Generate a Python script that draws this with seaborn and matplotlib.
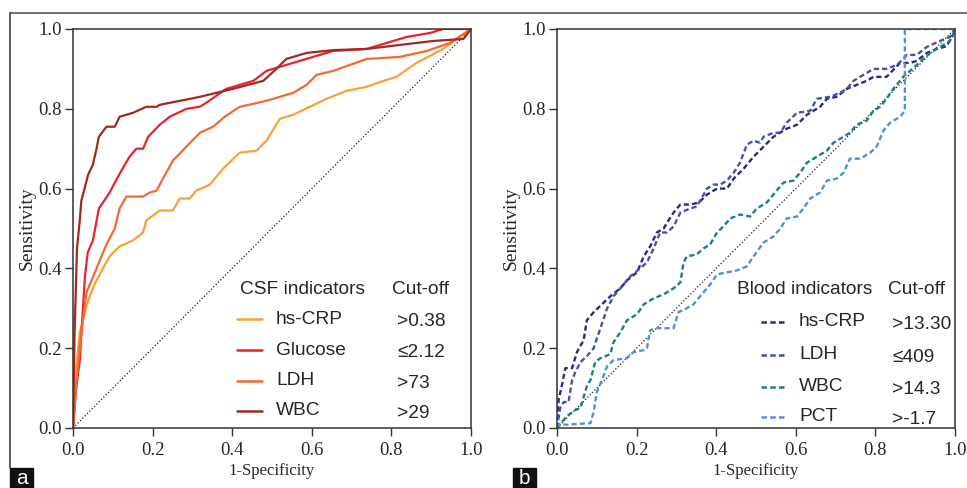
import numpy as np
import pandas as pd
import seaborn as sns
from matplotlib import pyplot as plt
from matplotlib.lines import Line2D
from matplotlib.patches import Rectangle

# ---- panel a : CSF indicators ----
csf_crp_fpr = [0, 0.004, 0.017, 0.038, 0.054, 0.075, 0.092, 0.117, 0.151, 0.176, 0.184, 0.218, 0.251, 0.268,
               0.293, 0.310, 0.344, 0.377, 0.419, 0.461, 0.486, 0.520, 0.553, 0.595, 0.637, 0.687, 0.738,
               0.780, 0.813, 0.863, 0.930, 1.0]
csf_crp_tpr = [0, 0.11, 0.24, 0.32, 0.36, 0.40, 0.43, 0.455, 0.47, 0.49, 0.52, 0.545, 0.545, 0.575,
               0.575, 0.595, 0.61, 0.65, 0.69, 0.695, 0.72, 0.775, 0.785, 0.805, 0.825, 0.845, 0.855,
               0.87, 0.88, 0.915, 0.95, 1.0]

csf_glu_fpr = [0, 0.008, 0.017, 0.025, 0.030, 0.037, 0.050, 0.065, 0.092, 0.113, 0.142, 0.159, 0.176,
               0.189, 0.218, 0.243, 0.285, 0.318, 0.335, 0.385, 0.453, 0.486, 0.536, 0.603, 0.654, 0.738,
               0.788, 0.838, 0.897, 0.930, 1.0]
csf_glu_tpr = [0, 0.10, 0.17, 0.30, 0.38, 0.44, 0.47, 0.55, 0.59, 0.63, 0.68, 0.70, 0.70,
               0.73, 0.76, 0.78, 0.80, 0.805, 0.815, 0.85, 0.87, 0.895, 0.91, 0.93, 0.945, 0.95,
               0.965, 0.98, 0.99, 1.0, 1.0]

csf_ldh_fpr = [0, 0.008, 0.021, 0.034, 0.059, 0.084, 0.105, 0.117, 0.134, 0.176, 0.193, 0.210, 0.226,
               0.251, 0.285, 0.319, 0.352, 0.381, 0.419, 0.486, 0.553, 0.587, 0.612, 0.654, 0.696, 0.738,
               0.821, 0.889, 0.947, 1.0]
csf_ldh_tpr = [0, 0.11, 0.24, 0.34, 0.40, 0.46, 0.50, 0.55, 0.58, 0.58, 0.59, 0.595, 0.625,
               0.67, 0.705, 0.74, 0.755, 0.78, 0.805, 0.82, 0.84, 0.86, 0.885, 0.895, 0.91, 0.925,
               0.93, 0.945, 0.965, 1.0]

csf_wbc_fpr = [0, 0.004, 0.010, 0.017, 0.021, 0.029, 0.038, 0.050, 0.059, 0.065, 0.084, 0.105, 0.117,
               0.151, 0.184, 0.210, 0.218, 0.319, 0.402, 0.478, 0.511, 0.536, 0.587, 0.654, 0.738, 0.821,
               0.905, 0.981, 1.0]
csf_wbc_tpr = [0, 0.24, 0.45, 0.52, 0.57, 0.60, 0.635, 0.66, 0.70, 0.73, 0.755, 0.755, 0.78,
               0.79, 0.805, 0.805, 0.81, 0.83, 0.85, 0.87, 0.90, 0.925, 0.94, 0.947, 0.95, 0.96,
               0.97, 0.975, 1.0]

# ---- panel b : blood indicators ----
bl_crp_fpr = [0, 0.004, 0.013, 0.021, 0.038, 0.050, 0.067, 0.075, 0.092, 0.113, 0.134, 0.159, 0.176, 0.201,
              0.218, 0.234, 0.251, 0.268, 0.280, 0.293, 0.310, 0.335, 0.356, 0.377, 0.402, 0.427, 0.444,
              0.469, 0.494, 0.519, 0.544, 0.577, 0.603, 0.628, 0.661, 0.678, 0.703, 0.728, 0.753, 0.778,
              0.795, 0.828, 0.862, 0.887, 0.904, 0.929, 0.954, 0.979, 0.992, 1.0]
bl_crp_tpr = [0, 0.07, 0.11, 0.15, 0.15, 0.19, 0.22, 0.27, 0.29, 0.31, 0.33, 0.35, 0.37, 0.39,
              0.43, 0.455, 0.49, 0.50, 0.52, 0.54, 0.56, 0.56, 0.565, 0.585, 0.60, 0.60, 0.625,
              0.65, 0.68, 0.705, 0.73, 0.75, 0.76, 0.785, 0.805, 0.825, 0.83, 0.85, 0.86, 0.87,
              0.88, 0.88, 0.915, 0.915, 0.92, 0.94, 0.95, 0.957, 0.98, 0.995]

bl_ldh_fpr = [0, 0.008, 0.017, 0.029, 0.038, 0.046, 0.059, 0.075, 0.092, 0.109, 0.126, 0.142, 0.159, 0.184,
              0.209, 0.226, 0.243, 0.259, 0.276, 0.293, 0.310, 0.335, 0.351, 0.377, 0.393, 0.410, 0.427,
              0.444, 0.460, 0.477, 0.494, 0.510, 0.519, 0.544, 0.561, 0.577, 0.603, 0.636, 0.653, 0.686,
              0.711, 0.728, 0.745, 0.770, 0.795, 0.828, 0.854, 0.870, 0.879, 0.904, 0.929, 0.962, 0.987, 1.0]
bl_ldh_tpr = [0, 0.05, 0.065, 0.065, 0.12, 0.14, 0.165, 0.18, 0.20, 0.25, 0.30, 0.33, 0.35, 0.38,
              0.40, 0.415, 0.45, 0.49, 0.49, 0.505, 0.54, 0.55, 0.555, 0.60, 0.61, 0.61, 0.62,
              0.64, 0.665, 0.71, 0.72, 0.715, 0.73, 0.74, 0.74, 0.765, 0.79, 0.795, 0.825, 0.83,
              0.84, 0.85, 0.87, 0.885, 0.90, 0.90, 0.91, 0.925, 0.935, 0.935, 0.955, 0.97, 0.98, 1.0]

bl_wbc_fpr = [0, 0.008, 0.025, 0.046, 0.059, 0.075, 0.084, 0.096, 0.109, 0.134, 0.142, 0.159, 0.176, 0.201,
              0.218, 0.243, 0.268, 0.293, 0.310, 0.318, 0.326, 0.351, 0.368, 0.385, 0.402, 0.418, 0.435,
              0.460, 0.485, 0.502, 0.527, 0.552, 0.569, 0.594, 0.611, 0.628, 0.653, 0.678, 0.695, 0.720,
              0.736, 0.753, 0.778, 0.795, 0.812, 0.828, 0.845, 0.870, 0.904, 0.937, 0.971, 0.987, 1.0]
bl_wbc_tpr = [0, 0.01, 0.03, 0.045, 0.05, 0.105, 0.12, 0.165, 0.175, 0.185, 0.215, 0.24, 0.27, 0.285,
              0.31, 0.325, 0.335, 0.35, 0.365, 0.415, 0.43, 0.435, 0.45, 0.46, 0.49, 0.505, 0.525,
              0.535, 0.53, 0.55, 0.565, 0.595, 0.615, 0.62, 0.64, 0.665, 0.68, 0.695, 0.715, 0.73,
              0.74, 0.76, 0.77, 0.795, 0.805, 0.825, 0.85, 0.88, 0.91, 0.94, 0.96, 0.97, 0.995]

bl_pct_fpr = [0, 0.008, 0.025, 0.050, 0.084, 0.092, 0.100, 0.113, 0.126, 0.142, 0.176, 0.192, 0.218, 0.226,
              0.234, 0.251, 0.293, 0.305, 0.326, 0.343, 0.368, 0.385, 0.402, 0.427, 0.452, 0.477, 0.494,
              0.519, 0.544, 0.561, 0.577, 0.603, 0.619, 0.636, 0.661, 0.678, 0.703, 0.720, 0.736, 0.762,
              0.787, 0.803, 0.820, 0.837, 0.862, 0.874, 0.874, 1.0]
bl_pct_tpr = [0, 0.01, 0.008, 0.01, 0.012, 0.04, 0.09, 0.12, 0.155, 0.17, 0.175, 0.19, 0.195, 0.20,
              0.245, 0.25, 0.25, 0.29, 0.30, 0.31, 0.34, 0.36, 0.385, 0.39, 0.395, 0.405, 0.43,
              0.465, 0.48, 0.50, 0.525, 0.53, 0.55, 0.575, 0.59, 0.62, 0.625, 0.64, 0.675, 0.675,
              0.69, 0.705, 0.745, 0.765, 0.78, 0.795, 1.0, 1.0]

diag = [0, 1]

csf_names = ['hs-CRP', 'Glucose', 'LDH', 'WBC']
csf_cutoffs = ['>0.38', '≤2.12', '>73', '>29']
csf_colors = ['#F9A13A', '#E8242B', '#F26A30', '#9E2A22']

blood_names = ['hs-CRP', 'LDH', 'WBC', 'PCT']
blood_cutoffs = ['>13.30', '≤409', '>14.3', '>-1.7']
blood_colors = ['#2B2A7C', '#4650AE', '#1B7D8C', '#4C92D8']

ticks = [0.0, 0.2, 0.4, 0.6, 0.8, 1.0]

sns.set_style('ticks')
plt.rcParams['font.family'] = ['Liberation Serif', 'DejaVu Serif']
SANS = ['Liberation Sans', 'DejaVu Sans']
DASH = (0, (2.2, 1.3))
LEG_FS = 13.8

fig = plt.figure(figsize=(9.67, 4.88), dpi=100)
ax_a = fig.add_axes([0.0755, 0.123, 0.4116, 0.8176])
ax_b = fig.add_axes([0.576, 0.123, 0.4116, 0.8176])


def style_axes(ax):
    ax.set_xlim(0, 1)
    ax.set_ylim(0, 1)
    ax.set_xticks(ticks)
    ax.set_yticks(ticks)
    ax.set_xticklabels(['%.1f' % t for t in ticks], fontsize=13.5)
    ax.set_yticklabels(['%.1f' % t for t in ticks], fontsize=13.5)
    ax.tick_params(direction='out', length=6, width=1, color='#333333', pad=2)
    ax.tick_params(axis='x', pad=4)
    for s in ax.spines.values():
        s.set_linewidth(1.1)
        s.set_color('#333333')
    ax.set_xlabel('1-Specificity', fontsize=12, labelpad=3)
    ax.set_ylabel('Sensitivity', fontsize=14, labelpad=2)
    sns.lineplot(x=diag, y=diag, ax=ax, color='#222222', linestyle=':', linewidth=0.9)


def legend_block(ax, header, names, cutoffs, colors, ls, hx, cx, sw, lx, vx, header_y, rows_y):
    ax.text(hx, header_y, header, transform=ax.transAxes, fontsize=LEG_FS, family=SANS, va='center')
    ax.text(cx, header_y, 'Cut-off', transform=ax.transAxes, fontsize=LEG_FS, family=SANS, va='center')
    for name, cut, col, y in zip(names, cutoffs, colors, rows_y):
        ax.add_line(Line2D(sw, [y, y], transform=ax.transAxes, color=col, linestyle=ls, linewidth=1.8))
        ax.text(lx, y, name, transform=ax.transAxes, fontsize=LEG_FS, family=SANS, va='center')
        ax.text(vx, y - 0.006, cut, transform=ax.transAxes, fontsize=LEG_FS, family=SANS, va='center')


# panel a
style_axes(ax_a)
csf_curves = [(csf_crp_fpr, csf_crp_tpr), (csf_glu_fpr, csf_glu_tpr),
              (csf_ldh_fpr, csf_ldh_tpr), (csf_wbc_fpr, csf_wbc_tpr)]
for (fx, ty), col in zip(csf_curves, csf_colors):
    sns.lineplot(x=fx, y=ty, ax=ax_a, color=col, linewidth=1.6, sort=False, estimator=None)
legend_block(ax_a, 'CSF indicators', csf_names, csf_cutoffs, csf_colors, '-',
             0.420, 0.801, [0.412, 0.475], 0.510, 0.814, 0.348, [0.273, 0.195, 0.118, 0.043])

# panel b
style_axes(ax_b)
blood_curves = [(bl_crp_fpr, bl_crp_tpr), (bl_ldh_fpr, bl_ldh_tpr),
                (bl_wbc_fpr, bl_wbc_tpr), (bl_pct_fpr, bl_pct_tpr)]
for (fx, ty), col in zip(blood_curves, blood_colors):
    sns.lineplot(x=fx, y=ty, ax=ax_b, color=col, linewidth=1.7, linestyle=DASH,
                 sort=False, estimator=None)
legend_block(ax_b, 'Blood indicators', blood_names, blood_cutoffs, blood_colors, DASH,
             0.452, 0.832, [0.513, 0.578], 0.608, 0.842, 0.348, [0.266, 0.183, 0.103, 0.028])

# outer frame (top + left) and panel tags
fig.add_artist(Line2D([0.0103, 1.0], [0.9734, 0.9734], transform=fig.transFigure, color='#666666', linewidth=1.3))
fig.add_artist(Line2D([0.0103, 0.0103], [0.041, 0.9734], transform=fig.transFigure, color='#333333', linewidth=1.1))
for x0, tag in [(0.0103, 'a'), (0.5305, 'b')]:
    fig.add_artist(Rectangle((x0, 0), 0.0238, 0.041, transform=fig.transFigure, color='#111111'))
    fig.text(x0 + 0.0119, 0.0, tag, color='white', fontsize=15, family=SANS, ha='center', va='bottom')

fig.savefig('out.png', dpi=100)
